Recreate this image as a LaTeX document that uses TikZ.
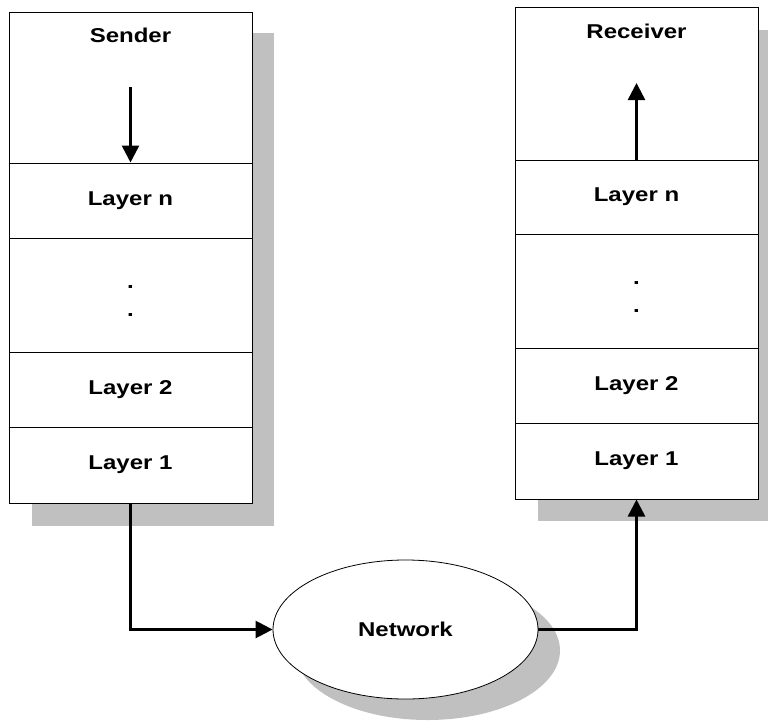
\documentclass[tikz,border=0pt]{standalone}
\usepackage{fontspec}
\newfontfamily\layerfont[FakeStretch=1.2]{Liberation Sans}
\usetikzlibrary{positioning}
\usetikzlibrary{arrows.meta}
\usetikzlibrary{shapes.geometric}
\usetikzlibrary{shadows}
\definecolor{shadowgray}{RGB}{192,192,192}

\begin{document}
\begin{tikzpicture}[x=1pt, y=-1pt,
    every node/.style={font=\layerfont\bfseries\fontsize{20}{24}\selectfont},
    cell/.style={draw, fill=white, line width=1pt, minimum width=243pt, inner sep=0pt},
    flow/.style={line width=2.5pt, -{Triangle[length=17pt, width=17pt]}}]
            \useasboundingbox (0,0) rectangle (768,720);
            \fill[shadowgray] (32,33) rectangle (274,526);
            \fill[shadowgray] (538,30) rectangle (781,521);
            \node[cell, minimum height=151pt] (Snd) at (130.5,87.5) {};
            \node at (130.5,35) {Sender};
            \node[cell, minimum height=75pt] (Sn) at (130.5,200.5) {Layer n};
            \node[cell, minimum height=114pt] (Sdots) at (130.5,295) {};
            \node (Sd1) at (130.5,287) {.};
            \node (Sd2) at (130.5,315) {.};
            \node[cell, minimum height=75pt] (S2) at (130.5,389.5) {Layer 2};
            \node[cell, minimum height=76pt] (S1) at (130.5,465) {Layer 1};
            \node[cell, minimum height=153pt] (Rcv) at (636.5,83.5) {};
            \node at (636.5,31) {Receiver};
            \node[cell, minimum height=74pt] (Rn) at (636.5,197) {Layer n};
            \node[cell, minimum height=114pt] (Rdots) at (636.5,291) {};
            \node (Rd1) at (636.5,283) {.};
            \node (Rd2) at (636.5,311) {.};
            \node[cell, minimum height=75pt] (R2) at (636.5,385.5) {Layer 2};
            \node[cell, minimum height=76pt] (R1) at (636.5,461) {Layer 1};
            \node[ellipse, draw, fill=white, line width=0.8pt, minimum width=265pt, minimum height=139pt, inner sep=0pt,
                drop shadow={shadow xshift=22pt, shadow yshift=-21pt, fill=shadowgray, opacity=1, draw=none}] (net) at (405.5,629.5) {Network};
            \coordinate (Stail) at (130.5,87);
            \coordinate (Rtip) at (636.5,83);
            \draw[flow] (Stail) -- (Sn.north);
            \draw[flow] (Rn.north) -- (Rtip);
            \draw[flow] (S1.south) |- (net.west);
            \draw[flow] (net.east) -| (R1.south);
        \end{tikzpicture}
\end{document}
